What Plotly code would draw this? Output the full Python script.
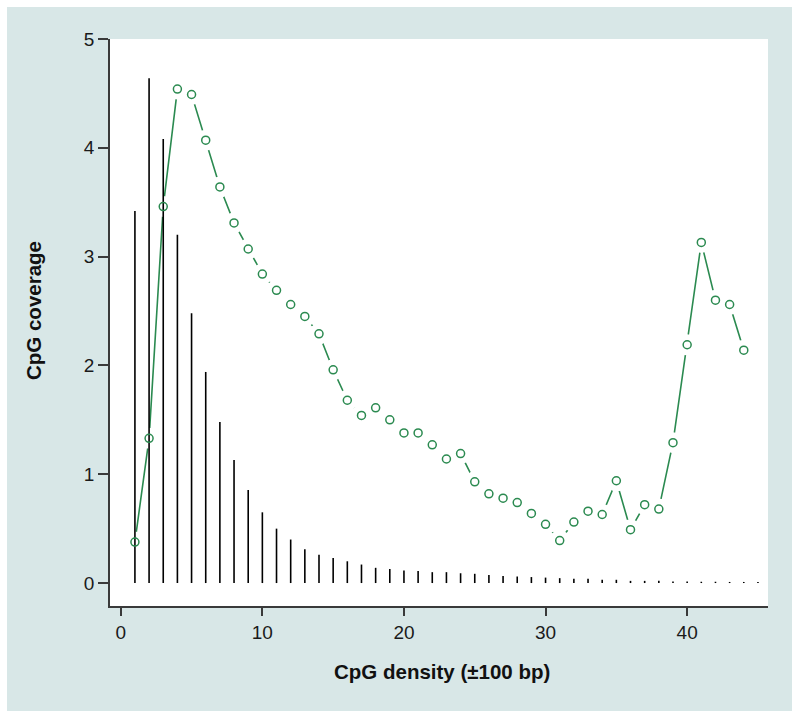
import plotly.graph_objects as go

# Black bars (vertical lines) : CpG density 1..45
bar_x = list(range(1, 46))
bar_y = [3.42, 4.64, 4.08, 3.20, 2.48, 1.94, 1.48, 1.13, 0.855, 0.65,
         0.50, 0.40, 0.31, 0.26, 0.23, 0.20, 0.17, 0.14, 0.13, 0.115,
         0.11, 0.10, 0.10, 0.09, 0.085, 0.075, 0.065, 0.06, 0.055, 0.05,
         0.045, 0.04, 0.04, 0.03, 0.03, 0.02, 0.02, 0.02, 0.015, 0.015,
         0.012, 0.012, 0.01, 0.01, 0.01]

# Green coverage curve : 1..44
pt_x = list(range(1, 45))
pt_y = [0.377, 1.33, 3.46, 4.54, 4.49, 4.07, 3.64, 3.31, 3.07, 2.84,
        2.69, 2.56, 2.45, 2.29, 1.96, 1.68, 1.54, 1.61, 1.50, 1.38,
        1.38, 1.27, 1.14, 1.19, 0.93, 0.82, 0.78, 0.74, 0.64, 0.54,
        0.39, 0.56, 0.66, 0.63, 0.94, 0.49, 0.72, 0.68, 1.29, 2.19,
        3.13, 2.60, 2.56, 2.14]

x_ticks = [0, 10, 20, 30, 40]
y_ticks = [0, 1, 2, 3, 4, 5]

GREEN = "#2b8a50"
BG = "#d8e7e7"
FONT = "Liberation Sans, Arial, Helvetica"

# build vertical segment lists from the bar data
seg_x, seg_y = [], []
for xv, yv in zip(bar_x, bar_y):
    seg_x += [xv, xv, None]
    seg_y += [0, yv, None]

fig = go.Figure()
# green connecting line
fig.add_trace(go.Scatter(x=pt_x, y=pt_y, mode="lines",
                         line=dict(color=GREEN, width=1.6),
                         hoverinfo="skip", showlegend=False))
# white gaps around the points (type="b" look)
fig.add_trace(go.Scatter(x=pt_x, y=pt_y, mode="markers",
                         marker=dict(symbol="circle", size=21, color="white",
                                     line=dict(width=0)),
                         hoverinfo="skip", showlegend=False))
# black bars
fig.add_trace(go.Scatter(x=seg_x, y=seg_y, mode="lines",
                         line=dict(color="black", width=1.6),
                         showlegend=False))
# hollow green circles
fig.add_trace(go.Scatter(x=pt_x, y=pt_y, mode="markers",
                         marker=dict(symbol="circle-open", size=8, color=GREEN,
                                     line=dict(width=1.5, color=GREEN)),
                         showlegend=False))

L, R, T, B = 110, 32, 39, 113
W, H = 800, 719
pw, ph = W - L - R, H - T - B

def px_x(p):
    return (p - L) / pw

def px_y(p):
    return (H - B - p) / ph

fig.add_shape(type="rect", xref="paper", yref="paper",
              x0=px_x(7), x1=px_x(792), y0=px_y(711), y1=px_y(7),
              fillcolor=BG, line=dict(width=0), layer="below")
fig.add_shape(type="rect", xref="paper", yref="paper",
              x0=0, x1=1, y0=0, y1=1,
              fillcolor="white", line=dict(width=0), layer="below")

axis_common = dict(showline=True, linecolor="#3a3a3a", linewidth=1.8,
                   ticks="outside", tickwidth=1.5, tickcolor="#3a3a3a",
                   showgrid=False, zeroline=False,
                   tickfont=dict(family=FONT, size=19, color="#1a1a1a"))

fig.update_xaxes(range=[-0.76, 45.71], tickvals=x_ticks, ticklen=8, **axis_common)
fig.update_yaxes(range=[-0.211, 5.0], tickvals=y_ticks, ticklen=10, **axis_common)

fig.add_annotation(text="<b>CpG density (±100 bp)</b>", xref="paper", yref="paper",
                   x=px_x(442), y=px_y(672), xanchor="center", yanchor="middle",
                   showarrow=False,
                   font=dict(family=FONT, size=20.5, color="#111"))
fig.add_annotation(text="<b>CpG coverage</b>", xref="paper", yref="paper",
                   x=px_x(33), y=px_y(311), xanchor="center", yanchor="middle",
                   showarrow=False, textangle=-90,
                   font=dict(family=FONT, size=20.5, color="#111"))

fig.update_layout(width=W, height=H,
                  margin=dict(l=L, r=R, t=T, b=B),
                  paper_bgcolor="white", plot_bgcolor="rgba(0,0,0,0)",
                  showlegend=False)

fig.write_html("out.html", config={"displayModeBar": False},
               post_script="document.body.style.margin='0';")
